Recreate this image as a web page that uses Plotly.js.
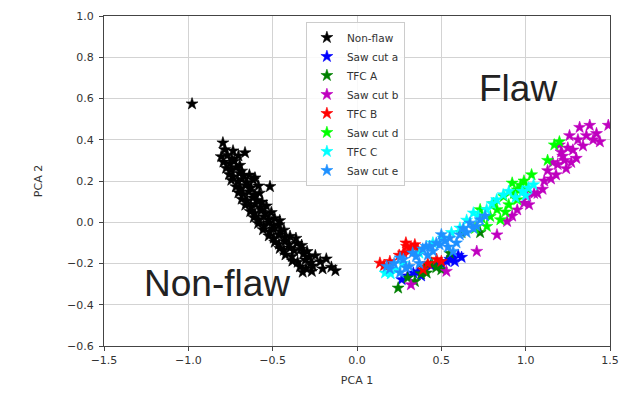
<!DOCTYPE html>
<html>
<head>
<meta charset="utf-8">
<script src="https://cdn.plot.ly/plotly-3.0.1.min.js"></script>
<style>html,body{margin:0;padding:0;background:#fff;}#chart{width:622px;height:393px;}</style>
</head>
<body>
<div id="chart"></div>
<script>
// ---- data ----
const seriesNames = ["Non-flaw","Saw cut a","TFC A","Saw cut b","TFC B","Saw cut d","TFC C","Saw cut e"];

const nonFlawX = [-0.978,-0.795,
 -0.785,-0.735,-0.664,
 -0.805,-0.768,-0.742,-0.703,
 -0.792,-0.755,-0.728,-0.695,
 -0.776,-0.748,-0.716,-0.684,
 -0.758,-0.735,-0.697,-0.672,-0.638,-0.605,
 -0.745,-0.706,-0.683,-0.652,-0.615,
 -0.718,-0.694,-0.661,-0.628,-0.584,-0.516,
 -0.703,-0.674,-0.641,-0.606,-0.578,
 -0.684,-0.652,-0.617,-0.592,-0.563,
 -0.662,-0.628,-0.604,-0.571,-0.537,
 -0.633,-0.606,-0.566,-0.543,-0.508,
 -0.612,-0.584,-0.551,-0.524,-0.488,-0.458,
 -0.586,-0.553,-0.522,-0.494,-0.462,
 -0.557,-0.519,-0.496,-0.457,-0.433,
 -0.523,-0.494,-0.462,-0.428,-0.397,-0.362,
 -0.488,-0.463,-0.426,-0.403,-0.357,-0.328,
 -0.458,-0.434,-0.397,-0.372,-0.334,-0.296,
 -0.424,-0.386,-0.318,-0.283,-0.247,
 -0.383,-0.352,-0.306,-0.274,-0.218,-0.182,
 -0.338,-0.302,-0.262,-0.204,-0.152,
 -0.322,-0.268,-0.128];
const nonFlawY = [0.574,0.385,
 0.352,0.346,0.337,
 0.318,0.325,0.307,0.322,
 0.292,0.284,0.296,0.276,
 0.262,0.254,0.266,0.248,
 0.232,0.221,0.238,0.226,0.229,0.215,
 0.204,0.196,0.208,0.193,0.205,
 0.172,0.164,0.178,0.167,0.176,0.173,
 0.143,0.136,0.148,0.132,0.141,
 0.112,0.104,0.118,0.107,0.098,
 0.083,0.074,0.087,0.071,0.079,
 0.052,0.044,0.058,0.041,0.047,
 0.023,0.014,0.027,0.011,0.019,0.008,
 -0.006,-0.016,-0.003,-0.018,-0.012,
 -0.036,-0.047,-0.033,-0.044,-0.038,
 -0.066,-0.077,-0.062,-0.074,-0.068,-0.078,
 -0.097,-0.106,-0.093,-0.108,-0.102,-0.112,
 -0.127,-0.136,-0.124,-0.138,-0.131,-0.142,
 -0.158,-0.166,-0.154,-0.168,-0.162,
 -0.188,-0.194,-0.183,-0.197,-0.191,-0.178,
 -0.216,-0.224,-0.212,-0.226,-0.218,
 -0.242,-0.238,-0.235];

const sawCutAX = [0.571,0.532,0.472,0.334,0.265,0.60,0.55,0.50,0.44,0.40,0.36,0.30,0.62,0.58,0.38];
const sawCutAY = [-0.173,-0.19,-0.206,-0.246,-0.278,-0.16,-0.18,-0.20,-0.21,-0.22,-0.24,-0.26,-0.17,-0.19,-0.26];

const tfcAX = [0.244,0.413,0.442,0.343,0.38,0.47,0.50,0.30,0.55,0.62,0.73,0.40];
const tfcAY = [-0.319,-0.246,-0.198,-0.287,-0.25,-0.22,-0.23,-0.27,-0.15,-0.05,-0.05,-0.22];

const sawCutBX = [1.32,1.38,1.42,1.44,1.26,1.20,1.28,1.34,1.22,1.30,1.24,1.19,1.13,1.15,1.11,1.36,1.40,1.25,1.31,1.27,1.21,1.16,1.18,1.23,1.49,1.10,1.07,
 1.05,1.01,0.99,1.02,0.89,0.83,0.71,0.53,0.32,0.95,0.92];
const sawCutBY = [0.46,0.47,0.43,0.39,0.42,0.375,0.35,0.37,0.32,0.31,0.26,0.28,0.25,0.21,0.20,0.42,0.40,0.36,0.40,0.29,0.34,0.29,0.23,0.30,0.47,0.16,0.14,
 0.14,0.125,0.093,0.085,0.004,-0.061,-0.141,-0.238,-0.303,0.06,0.03];

const tfcBX = [0.294,0.343,0.275,0.136,0.195,0.392,0.472,0.31,0.32,0.36,0.16,0.42,0.50,0.25,0.29];
const tfcBY = [-0.117,-0.109,-0.149,-0.198,-0.19,-0.23,-0.18,-0.14,-0.125,-0.13,-0.21,-0.20,-0.19,-0.16,-0.10];

const sawCutDX = [1.20,1.17,1.13,1.035,0.99,0.92,0.95,0.87,0.83,0.85,0.77,0.73,0.79,0.90,0.95,1.006,0.81,0.88,0.74,0.70,0.93,0.97];
const sawCutDY = [0.39,0.375,0.30,0.23,0.20,0.19,0.157,0.125,0.061,0.012,-0.02,0.061,0.028,0.085,0.109,0.166,0.09,0.05,0.02,-0.03,0.14,0.18];

const tfcCX = [1.047,1.017,0.867,0.828,0.769,0.69,0.61,0.511,0.166,0.20,0.90,0.98,0.72,0.65,0.56,0.45,0.37,0.27,0.23,0.80,0.94,1.00];
const tfcCY = [0.182,0.166,0.133,0.109,0.061,0.045,-0.028,-0.077,-0.246,-0.25,0.15,0.15,0.03,0.01,-0.05,-0.10,-0.15,-0.20,-0.23,0.09,0.12,0.13];

const sawCutEX = [0.73,0.67,0.61,0.55,0.47,0.41,0.33,0.255,0.176,0.43,0.49,0.57,0.65,0.71,0.31,0.255,0.195,0.35,0.275,0.52,0.59,0.63,0.69,0.45,0.39,0.37,0.29,0.22,0.54,0.76,0.50,0.42];
const sawCutEY = [0.012,-0.004,-0.061,-0.077,-0.101,-0.117,-0.149,-0.173,-0.214,-0.117,-0.109,-0.141,-0.05,-0.02,-0.214,-0.244,-0.226,-0.166,-0.18,-0.09,-0.10,-0.03,-0.03,-0.14,-0.13,-0.20,-0.22,-0.20,-0.12,0.03,-0.06,-0.16];

const xTickVals = [-1.5,-1.0,-0.5,0.0,0.5,1.0,1.5];
const yTickVals = [-0.6,-0.4,-0.2,0.0,0.2,0.4,0.6,0.8,1.0];

// ---- styles ----
const colors = ["#000000","#0000ff","#008000","#bf00bf","#ff0000","#00ff00","#00ffff","#1e90ff"];
const xs = [nonFlawX,sawCutAX,tfcAX,sawCutBX,tfcBX,sawCutDX,tfcCX,sawCutEX];
const ys = [nonFlawY,sawCutAY,tfcAY,sawCutBY,tfcBY,sawCutDY,tfcCY,sawCutEY];

const traces = seriesNames.map((n,i)=>({
  type:'scatter', mode:'markers', name:n, x:xs[i], y:ys[i],
  marker:{symbol:'star', size:9, color:colors[i], line:{width:0.6, color:colors[i]}}
}));

const axisCommon = {
  showgrid:true, gridcolor:'#d3d3d3', gridwidth:1,
  zeroline:false, showline:true, linecolor:'#444', linewidth:1, mirror:true,
  ticks:'outside', ticklen:4, tickcolor:'#444', tickwidth:1,
  tickfont:{family:'DejaVu Sans', size:11, color:'#333'},
  tickformat:'.1f'
};

const layout = {
  width:622, height:393,
  margin:{l:104, r:12, t:16, b:47},
  paper_bgcolor:'#fff', plot_bgcolor:'#fff',
  showlegend:true,
  xaxis:Object.assign({}, axisCommon, {range:[-1.5,1.5], tickvals:xTickVals,
    title:{text:'PCA 1', font:{family:'DejaVu Sans', size:11, color:'#333'}, standoff:10}}),
  yaxis:Object.assign({}, axisCommon, {range:[-0.6,1.0], tickvals:yTickVals, ticklabelstandoff:3,
    title:{text:'PCA 2', font:{family:'DejaVu Sans', size:11, color:'#333'}, standoff:22}}),
  legend:{x:0.399, y:0.982, xanchor:'left', yanchor:'top',
    bgcolor:'rgba(255,255,255,0.85)', bordercolor:'#cccccc', borderwidth:1,
    font:{family:'DejaVu Sans', size:10.5, color:'#333'}},
  annotations:[
    {xref:'paper', yref:'paper', x:0.818, y:0.779, xanchor:'center', yanchor:'middle', showarrow:false,
     text:'Flaw', font:{family:'Liberation Sans, Arial', size:37, color:'#222'}},
    {xref:'paper', yref:'paper', x:0.224, y:0.189, xanchor:'center', yanchor:'middle', showarrow:false,
     text:'Non-flaw', font:{family:'Liberation Sans, Arial', size:37, color:'#222'}}
  ]
};

Plotly.newPlot('chart', traces, layout, {displayModeBar:false, staticPlot:true});
</script>
</body>
</html>
